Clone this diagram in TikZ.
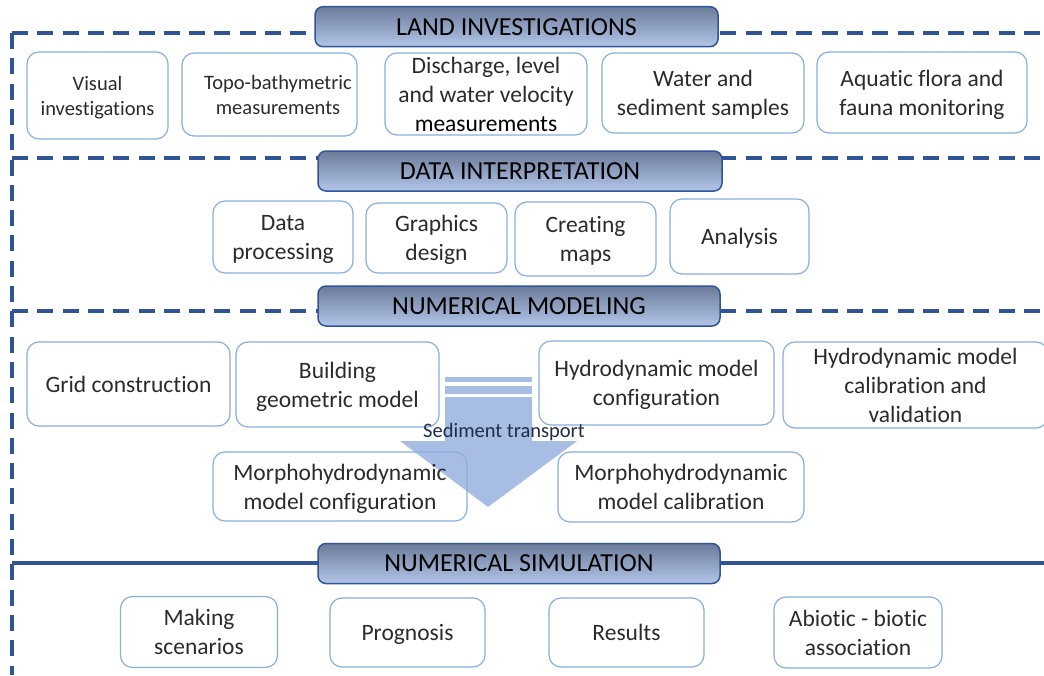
\documentclass[tikz,border=0pt]{standalone}
\usepackage{fontspec}
\setmainfont{Carlito}[Ligatures={NoCommon}]
\definecolor{linec}{HTML}{2F5597}
\definecolor{hdrc}{HTML}{2F5597}
\definecolor{htop}{HTML}{6C7B9A}
\definecolor{hbot}{HTML}{B2C6E8}
\definecolor{subc}{HTML}{87AEDD}
\definecolor{txt}{HTML}{2B2B2B}
\definecolor{arrowc}{HTML}{A8BDE3}
\definecolor{labc}{HTML}{1F2D4A}
\begin{document}
\begin{tikzpicture}[x=1pt,y=-1pt,
  subthree/.style={draw=subc, line width=1.2pt, rounded corners=12pt, align=center,
    text=txt, font=\fontsize{23.5}{29}\selectfont, inner sep=0pt},
  sub/.style={subthree, text depth=0pt},
  subsmall/.style={sub, font=\fontsize{20.5}{25}\selectfont},
  hdr/.style={draw=hdrc, line width=1.5pt, rounded corners=8pt, top color=htop,
    bottom color=hbot, font=\fontsize{26}{30}\selectfont, text=black, inner sep=0pt,
    minimum height=40pt},
  guide/.style={draw=linec, line width=4pt, dash pattern=on 16pt off 9.3pt},
  guidesolid/.style={draw=linec, line width=4pt}]
\useasboundingbox (0,0) rectangle (1044,675);

% guide lines
\coordinate (tl) at (12,33);
\coordinate (tr) at (1044,33);
\coordinate (bl) at (12,675);
\coordinate (l2) at (12,157.5);
\coordinate (r2) at (1044,157.5);
\coordinate (l3) at (12,311);
\coordinate (r3) at (1044,311);
\coordinate (l4) at (12,563);
\coordinate (r4) at (1044,563);
\draw[guide] (tl) -- (tr);
\draw[guide] (tl) -- (bl);
\draw[guide] (l2) -- (r2);
\draw[guide] (l3) -- (r3);
\draw[guidesolid] (l4) -- (r4);

% headers
\node[hdr, minimum width=403pt] (h1) at (516.5,26.7) {LAND INVESTIGATIONS};
\node[hdr, minimum width=404pt] (h2) at (520,171) {DATA INTERPRETATION};
\node[hdr, minimum width=402pt] (h3) at (519,306) {NUMERICAL MODELING};
\node[hdr, minimum width=402pt] (h4) at (519,563.5) {NUMERICAL SIMULATION};

% row 1
\node[subsmall, minimum width=141pt, minimum height=87pt] (vis) at (97.5,95.5) {Visual\\investigations};
\node[subsmall, minimum width=175pt, minimum height=83pt] (topo) at (269.5,94.5) {\hspace*{17pt}Topo-bathymetric\\\hspace*{17pt}measurements};
\node[subthree, minimum width=202pt, minimum height=82pt] (dis) at (486,94) {Discharge, level\\and water velocity\\\textcolor{black}{measurements}};
\node[sub, minimum width=202pt, minimum height=80pt] (water) at (703,93) {Water and\\sediment samples};
\node[sub, minimum width=210pt, minimum height=81pt] (aqua) at (922,92.5) {Aquatic flora and\\fauna monitoring};

% row 2
\node[sub, minimum width=140pt, minimum height=72pt] (data) at (283,237) {Data\\processing};
\node[sub, minimum width=141pt, minimum height=70pt] (graph) at (436.5,238) {Graphics\\design};
\node[sub, minimum width=141pt, minimum height=74pt] (maps) at (585.5,239) {Creating\\maps};
\node[sub, minimum width=139pt, minimum height=75pt] (anal) at (739.5,236.5) {Analysis};

% row 3
\node[sub, minimum width=203pt, minimum height=84pt] (grid) at (128.5,384) {Grid construction};
\node[sub, minimum width=203pt, minimum height=85pt] (build) at (337.5,384.5) {Building\\geometric model};
\node[sub, minimum width=235pt, minimum height=84pt] (hconf) at (656.5,383) {Hydrodynamic model\\configuration};
\node[subthree, minimum width=265pt, minimum height=86pt] (hcal) at (915.5,385) {Hydrodynamic model\\calibration and\\validation};

% sediment transport arrow
\fill[arrowc] (445,377) rectangle (532,382);
\fill[arrowc] (445,386) rectangle (532,394);
\fill[arrowc] (445,397) -- (532,397) -- (532,441) -- (577,441) -- (488,507) -- (400,441) -- (445,441) -- cycle;
\node[font=\fontsize{20.5}{24}\selectfont, text=labc, inner sep=0pt] (sed) at (504,432) {Sediment transport};

% row 4
\node[sub, minimum width=254pt, minimum height=69pt] (mconf) at (340,486.5) {Morphohydrodynamic\\model configuration};
\node[sub, minimum width=246pt, minimum height=70pt] (mcal) at (681,487) {Morphohydrodynamic\\model calibration};

% row 5
\node[sub, minimum width=157pt, minimum height=71pt] (scen) at (199,632) {Making\\scenarios};
\node[sub, minimum width=155pt, minimum height=69pt] (prog) at (407.5,632.5) {Prognosis};
\node[sub, minimum width=155pt, minimum height=69pt] (res) at (626.5,632.5) {Results};
\node[sub, minimum width=168pt, minimum height=71pt] (abio) at (858,632.5) {Abiotic - biotic\\association};
\end{tikzpicture}
\end{document}
